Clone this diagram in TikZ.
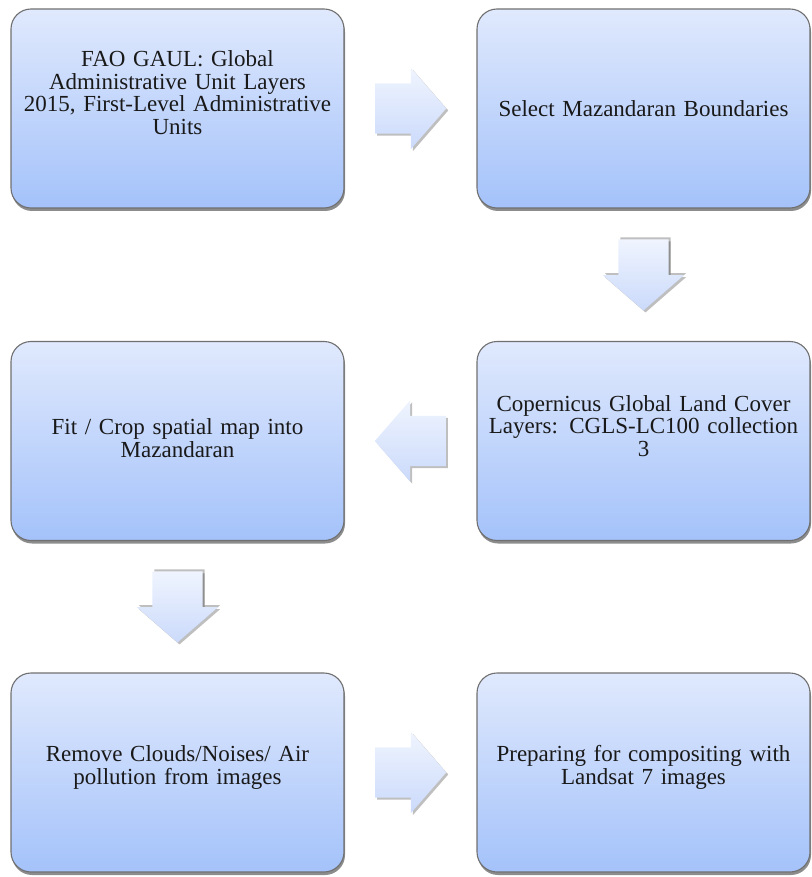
\documentclass[tikz,border=0pt]{standalone}
\usepackage{fontspec}
\setmainfont{Liberation Serif}
\usetikzlibrary{shapes.arrows,shadows,calc}

\definecolor{boxTop}{RGB}{224,233,253}
\definecolor{boxBottom}{RGB}{164,194,250}
\definecolor{boxLine}{RGB}{112,112,112}
\definecolor{arrowTop}{RGB}{239,244,254}
\definecolor{arrowBottom}{RGB}{203,218,251}

\tikzset{
  box/.style={rectangle, rounded corners=20pt, minimum width=333pt, minimum height=199pt,
    draw=boxLine, line width=1.1pt, top color=boxTop, bottom color=boxBottom,
    drop shadow={shadow xshift=1pt, shadow yshift=-3pt, opacity=0.45, fill=black}},
  boxtext/.style={align=center, text width=320pt, inner sep=0pt,
    font=\fontsize{23}{22.5}\selectfont, text=black!90},
  flow/.style={single arrow, draw=none, anchor=tail, minimum height=71pt, inner xsep=0pt, inner ysep=25pt,
    single arrow head extend=15.5pt, single arrow tip angle=98,
    top color=arrowTop, bottom color=arrowBottom,
    drop shadow={shadow xshift=2pt, shadow yshift=-2pt, opacity=0.25, fill=black}},
  flowdown/.style={flow, rotate=-90,
    drop shadow={shadow xshift=2pt, shadow yshift=2pt, opacity=0.25, fill=black}},
}

\begin{document}
\begin{tikzpicture}[x=1pt, y=1pt, yscale=-1]
    \useasboundingbox (0,0) rectangle (811,877);

    % Define the positions of the boxes
    \coordinate (gaulPos) at (177.5, 108.5);
    \coordinate (selectPos) at (643.5, 108.5);
    \coordinate (fitPos) at (177.5, 441);
    \coordinate (copernicusPos) at (643.5, 441);
    \coordinate (removePos) at (177.5, 772.5);
    \coordinate (landsatPos) at (643.5, 772.5);

    % Draw the boxes
    \node[box] (gaul) at (gaulPos) {};
    \node[box] (select) at (selectPos) {};
    \node[box] (copernicus) at (copernicusPos) {};
    \node[box] (fit) at (fitPos) {};
    \node[box] (remove) at (removePos) {};
    \node[box] (landsat) at (landsatPos) {};

    % Draw the texts
    \node[boxtext] (gaulText) at ([yshift=-16]gaulPos) {FAO GAUL: Global\\ Administrative Unit Layers\\ 2015, First-Level Administrative\\ Units};
    \node[boxtext] (selectText) at (selectPos) {Select Mazandaran Boundaries};
    \node[boxtext] (copernicusText) at ([yshift=-15]copernicusPos) {Copernicus Global Land Cover\\ Layers: CGLS-LC100 collection\\ 3};
    \node[boxtext] (fitText) at ([yshift=-3]fitPos) {Fit / Crop spatial map into\\ Mazandaran};
    \node[boxtext] (removeText) at ([yshift=-5]removePos) {Remove Clouds/Noises/ Air\\ pollution from images};
    \node[boxtext] (landsatText) at ([yshift=-5]landsatPos) {Preparing for compositing with\\ Landsat 7 images};

    % Draw the arrows (tail put 35.5 back from the middle of the gap)
    \node[flow] (toSelect) at ($(gaul.east)!0.5!(select.west)!35.5pt!(gaul.east)$) {};
    \node[flowdown] (toCopernicus) at ($(select.south)!0.5!(copernicus.north)!35.5pt!(select.south)$) {};
    \node[flow, shape border rotate=180] (toFit) at ($(copernicus.west)!0.5!(fit.east)!35.5pt!(copernicus.west)$) {};
    \node[flowdown] (toRemove) at ($(fit.south)!0.5!(remove.north)!35.5pt!(fit.south)$) {};
    \node[flow] (toLandsat) at ($(remove.east)!0.5!(landsat.west)!35.5pt!(remove.east)$) {};

\end{tikzpicture}
\end{document}
